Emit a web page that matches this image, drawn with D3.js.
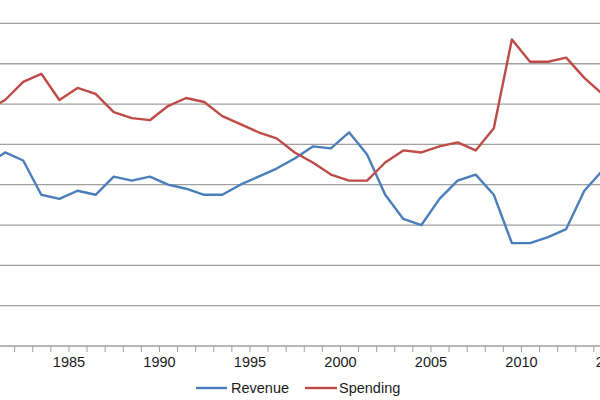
<!DOCTYPE html>
<html>
<head>
<meta charset="utf-8">
<script src="https://cdn.jsdelivr.net/npm/d3@7"></script>
<style>
  html, body { margin: 0; padding: 0; background: #fff; }
  svg { display: block; }
  text { font-family: "Liberation Sans", Arial, sans-serif; }
</style>
</head>
<body>
<svg id="chart" width="600" height="400"></svg>
<script>
// Fiscal years
const years = [1980,1981,1982,1983,1984,1985,1986,1987,1988,1989,1990,1991,1992,1993,1994,1995,1996,1997,1998,1999,2000,2001,2002,2003,2004,2005,2006,2007,2008,2009,2010,2011,2012,2013,2014];
// Revenue, % of GDP
const revenue = [19.0,19.6,19.2,17.5,17.3,17.7,17.5,18.4,18.2,18.4,18.0,17.8,17.5,17.5,18.0,18.4,18.8,19.3,19.9,19.8,20.6,19.5,17.5,16.3,16.0,17.3,18.2,18.5,17.5,15.1,15.1,15.4,15.8,17.7,18.7];
// Spending, % of GDP
const spending = [21.7,22.2,23.1,23.5,22.2,22.8,22.5,21.6,21.3,21.2,21.9,22.3,22.1,21.4,21.0,20.6,20.3,19.6,19.1,18.5,18.2,18.2,19.1,19.7,19.6,19.9,20.1,19.7,20.8,25.2,24.1,24.1,24.3,23.3,22.5];
// Y gridline values
const yGrid = [12,14,16,18,20,22,24,26];
// X tick labels shown
const xLabels = [1985,1990,1995,2000,2005,2010,2015];
const seriesNames = ["Revenue","Spending"];
const seriesColors = ["#4A7EBB","#BE4B48"];

const svg = d3.select("#chart");

const x = d3.scaleLinear().domain([2000, 2010]).range([349, 530]);
const y = d3.scaleLinear().domain([10, 26]).range([346, 23.4]);

// gridlines
svg.append("g").selectAll("line").data(yGrid).join("line")
  .attr("x1", 0).attr("x2", 600)
  .attr("y1", d => y(d)).attr("y2", d => y(d))
  .attr("stroke", "#a0a0a0").attr("stroke-width", 1.3);

// x axis with ticks between categories
const tickVals = d3.range(1980, 2018).map(d => d - 0.5);
const axis = d3.axisBottom(x)
  .tickValues(tickVals)
  .tickSize(6)
  .tickPadding(5)
  .tickFormat(d => (xLabels.includes(d + 0.5) ? String(d + 0.5) : ""));
const gx = svg.append("g").attr("transform", `translate(0,${y(10)})`).call(axis);
gx.select(".domain").remove();
gx.append("line").attr("x1", 0).attr("x2", 600).attr("y1", 0).attr("y2", 0)
  .attr("stroke", "#a0a0a0").attr("stroke-width", 1.3);
gx.selectAll(".tick line").attr("stroke", "#a0a0a0").attr("stroke-width", 1);
gx.selectAll(".tick text")
  .attr("font-family", "'Liberation Sans', Arial, sans-serif")
  .attr("font-size", "14.5px")
  .attr("fill", "#1a1a1a")
  .attr("dy", "0.71em");

// lines
const line = d3.line().x((d, i) => x(years[i])).y(d => y(d));
[revenue, spending].forEach((vals, k) => {
  svg.append("path").datum(vals)
    .attr("d", line)
    .attr("fill", "none")
    .attr("stroke", seriesColors[k])
    .attr("stroke-width", 2.4)
    .attr("stroke-linejoin", "round");
});

// legend
const legendItems = [
  {name: seriesNames[0], color: seriesColors[0], x0: 196, x1: 227, tx: 231},
  {name: seriesNames[1], color: seriesColors[1], x0: 305, x1: 337, tx: 339}
];
const lg = svg.append("g");
legendItems.forEach(it => {
  lg.append("line").attr("x1", it.x0).attr("x2", it.x1).attr("y1", 388).attr("y2", 388)
    .attr("stroke", it.color).attr("stroke-width", 2.4);
  lg.append("text").attr("x", it.tx).attr("y", 392.5)
    .attr("font-size", "14.5px").attr("fill", "#1a1a1a").text(it.name);
});
</script>
</body>
</html>
